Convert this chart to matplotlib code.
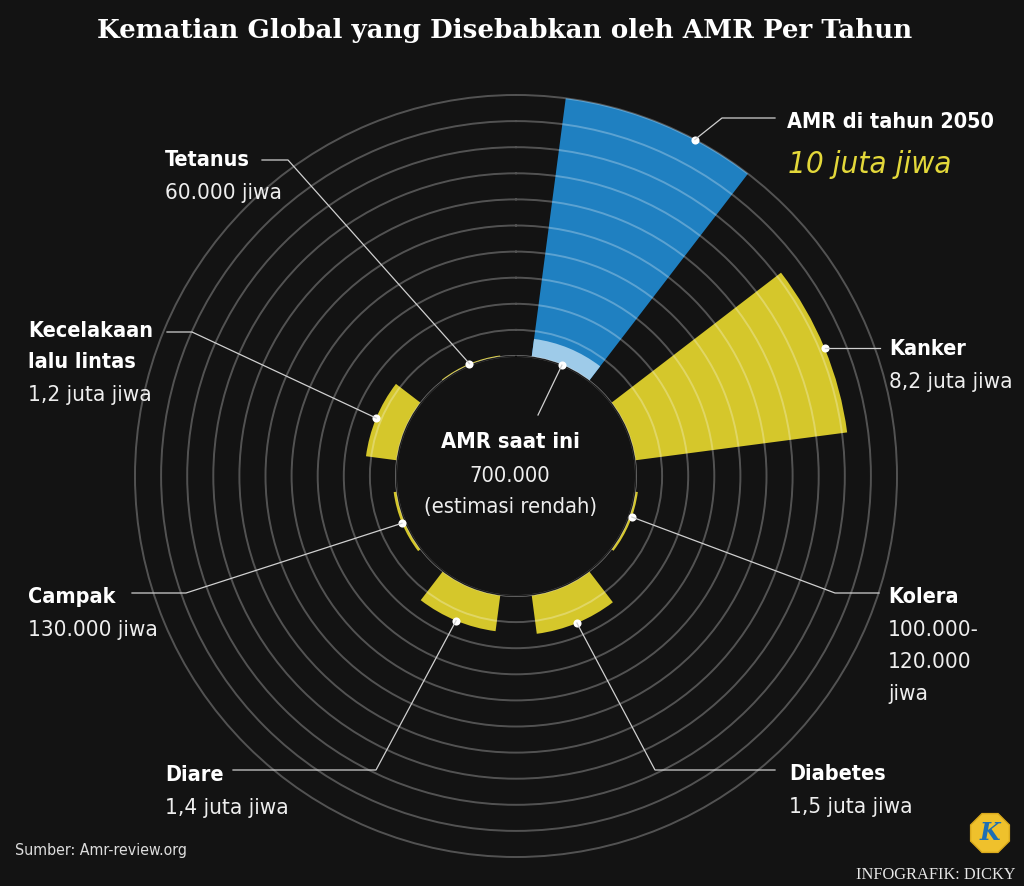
import numpy as np
import matplotlib
matplotlib.use("Agg")
import matplotlib.pyplot as plt
from matplotlib import font_manager as fm
from matplotlib.lines import Line2D
from matplotlib.patches import RegularPolygon
from matplotlib.transforms import IdentityTransform

# ---------------- data ----------------
categories = ["AMR di tahun 2050", "Kanker", "Kolera", "Diabetes", "Diare",
              "Campak", "Kecelakaan\nlalu lintas", "Tetanus"]
deaths_juta = [10.0, 8.2, 0.11, 1.5, 1.4, 0.13, 1.2, 0.06]   # million deaths per year
value_labels = ["10 juta jiwa", "8,2 juta jiwa", "100.000-\n120.000\njiwa",
                "1,5 juta jiwa", "1,4 juta jiwa", "130.000 jiwa",
                "1,2 juta jiwa", "60.000 jiwa"]
amr_now_juta = 0.7
amr_now_title = "AMR saat ini"
amr_now_label = "700.000"
amr_now_note = "(estimasi rendah)"
ring_values = [0, 1, 2, 3, 4, 5, 6, 7, 8, 9, 10]
title = "Kematian Global yang Disebabkan oleh AMR Per Tahun"
source = "Sumber: Amr-review.org"
credit = "INFOGRAFIK: DICKY"

# ---------------- style ----------------
W, H = 1024, 886
BG = "#131313"
YELLOW = "#d5c72b"
BLUE = "#1f80c1"
LIGHTBLUE = "#9ecbe9"
VAL_YELLOW = "#e3d83a"
LEADER = "#d0d0d0"
RING = dict(color="white", alpha=0.27, linewidth=1.4)

names = {f.name for f in fm.fontManager.ttflist}
if "Liberation Sans Narrow" in names:
    SANS = dict(family="Liberation Sans Narrow")
    k = 1.0
elif any(f.name == "DejaVu Sans" and "condensed" in str(f.stretch) for f in fm.fontManager.ttflist):
    SANS = dict(family="DejaVu Sans", stretch="condensed")
    k = 0.85
else:
    SANS = dict(family="Roboto")
    k = 0.82

fig = plt.figure(figsize=(W / 100, H / 100), dpi=100, facecolor=BG)

# polar axes: centre at (516, 476) px from top, radius 400 px
cx, cy, R = 516, 476, 400
ax = fig.add_axes([(cx - R) / W, (H - cy - R) / H, 2 * R / W, 2 * R / H],
                  projection="polar")
ax.set_facecolor("none")
ax.set_theta_zero_location("N")
ax.set_theta_direction(-1)
px_per_unit = 26.1
inner = 120 / px_per_unit
ax.set_rorigin(-inner)
ax.set_ylim(0, R / px_per_unit - inner)

n = len(categories)
theta = np.deg2rad(22.5 + 45 * np.arange(n))
width = np.deg2rad(30)
colors = [BLUE] + [YELLOW] * (n - 1)
ax.bar(theta, deaths_juta, width=width, bottom=0, color=colors, linewidth=0, zorder=1)
ax.bar(theta[0], amr_now_juta, width=width, bottom=0, color=LIGHTBLUE, linewidth=0, zorder=1.1)

ax.set_yticks(ring_values)
ax.set_yticklabels([])
ax.set_xticks([])
ax.yaxis.grid(True, **RING)
ax.xaxis.grid(False)
ax.spines["polar"].set_visible(False)
ax.spines["inner"].set_visible(False)
ax.set_axisbelow(False)
ax.tick_params(length=0)
# inner boundary ring
full = np.linspace(0, 2 * np.pi, 721)
ax.plot(full, np.full_like(full, ring_values[0]), zorder=2.5, clip_on=False, **RING)

# dots
dot_offsets = np.deg2rad([5.5, 0, -3, 0, 0, 0, 0, 0])
dot_theta = theta + dot_offsets
ax.scatter(dot_theta, deaths_juta, s=34, color="white", zorder=6, clip_on=False, linewidths=0)
ax.scatter([theta[0]], [0], s=34, color="white", zorder=6, clip_on=False, linewidths=0)


def leader(start_disp, pts):
    xs = [start_disp[0]] + [p[0] for p in pts]
    ys = [start_disp[1]] + [H - p[1] for p in pts]
    fig.add_artist(Line2D(xs, ys, transform=IdentityTransform(), color=LEADER,
                          linewidth=0.9, zorder=5))


dots_disp = [ax.transData.transform((t, r)) for t, r in zip(dot_theta, deaths_juta)]
elbows = [
    [(722, 118), (775, 118)],
    [(880, None)],
    [(835, 593), (879, 593)],
    [(655, 770), (775, 770)],
    [(376, 770), (233, 770)],
    [(186, 593), (132, 593)],
    [(192, 332), (167, 332)],
    [(288, 160), (262, 160)],
]
for d, pts in zip(dots_disp, elbows):
    pts = [(x, (H - d[1]) if y is None else y) for x, y in pts]
    leader(d, pts)
now_disp = ax.transData.transform((theta[0], 0))
leader(now_disp, [(538, 415)])


def ftext(x, y, s, size, weight="normal", color="white", style="normal", ha="left", **kw):
    props = dict(SANS)
    props.update(kw)
    fig.text(x / W, 1 - y / H, s, fontsize=size * k, fontweight=weight, color=color,
             fontstyle=style, ha=ha, va="baseline", **props)


label_pos = [(787, 128), (889, 355), (888, 603), (789, 780),
             (165, 781), (28, 603), (28, 337), (165, 166)]
for i, (cat, val, (x, y)) in enumerate(zip(categories, value_labels, label_pos)):
    lines = cat.split("\n")
    for j, ln in enumerate(lines):
        ftext(x, y + 31 * j, ln, 18.2, weight="bold")
    yv = y + 31 * (len(lines) - 1) + 33
    if i == 0:
        ftext(x + 1, y + 45, val, 26.5, color=VAL_YELLOW, style="italic")
    else:
        for j, ln in enumerate(val.split("\n")):
            ftext(x, yv + 32 * j, ln, 19, color="#eeeeee")

# centre text
ftext(510, 448, amr_now_title, 18.5, weight="bold", ha="center")
ftext(510, 482, amr_now_label, 18.5, color="#eeeeee", ha="center")
ftext(510, 513, amr_now_note, 18.5, color="#eeeeee", ha="center")

# title / source / credit
fig.text(505 / W, 1 - 38 / H, title, fontsize=18.8, fontweight="bold", color="white",
         family="DejaVu Serif", ha="center", va="baseline")
ftext(15, 855, source, 13.5, color="#dddddd")
fig.text(1015 / W, 1 - 879 / H, credit, fontsize=11.8, color="#e8e8e8",
         family="Liberation Serif", ha="right", va="baseline")

# logo
fig.add_artist(RegularPolygon((990, H - 833), numVertices=8, radius=21,
                              orientation=np.pi / 8, transform=IdentityTransform(),
                              facecolor="#efc12c", edgecolor="#d9a91c", linewidth=1))
fig.text(990 / W, 1 - 833 / H, "K", fontsize=17, color="#1d6fb4", family="DejaVu Serif",
         fontweight="bold", fontstyle="italic", ha="center", va="center")

fig.savefig("out.png", dpi=100, facecolor=BG)
